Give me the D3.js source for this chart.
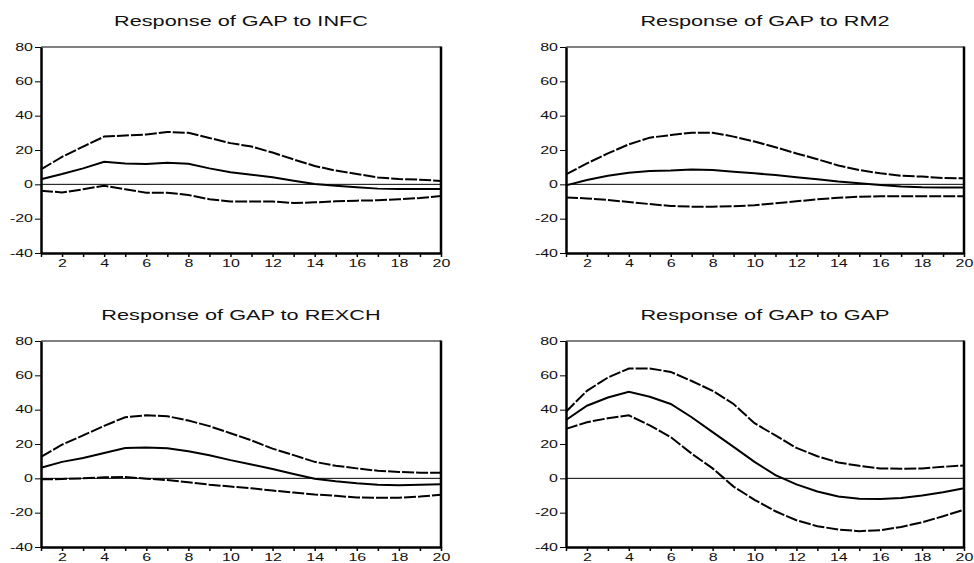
<!DOCTYPE html>
<html>
<head>
<meta charset="utf-8">
<script src="https://cdn.jsdelivr.net/npm/d3@7"></script>
<style>
  html, body { margin: 0; padding: 0; background: #fff; }
  svg { display: block; }
  text { font-family: "Liberation Sans", Arial, sans-serif; fill: #111; }
</style>
</head>
<body>
<svg id="chart" width="974" height="563"></svg>
<script>
const periods = d3.range(1, 21);
const yTicks = [-40, -20, 0, 20, 40, 60, 80];
const xTickLabels = [2, 4, 6, 8, 10, 12, 14, 16, 18, 20];

const titles = [
  "Response of GAP to INFC",
  "Response of GAP to RM2",
  "Response of GAP to REXCH",
  "Response of GAP to GAP"
];

// Response of GAP to INFC
const infcUpper = [8.7, 16, 22, 27.8, 28.5, 29, 30.5, 30, 27, 24, 22, 18.5, 14.5, 10.7, 8, 6, 4, 3.1, 2.7, 2];
const infcMid   = [3, 6, 9.3, 13.2, 12.2, 11.8, 12.6, 12, 9.3, 7, 5.6, 4.1, 2.1, 0.2, -0.8, -1.7, -2.5, -2.7, -2.7, -2.7];
const infcLower = [-3.7, -4.7, -2.9, -0.8, -2.9, -4.9, -4.9, -6.2, -8.7, -10, -10, -10, -10.9, -10.5, -9.9, -9.5, -9.3, -8.7, -8, -6.8];

// Response of GAP to RM2
const rm2Upper = [5.8, 12.2, 18, 23.3, 27.2, 28.7, 30.1, 30.1, 27.8, 24.9, 21.6, 18, 14.6, 11, 8.3, 6.4, 5, 4.5, 3.7, 3.5];
const rm2Mid   = [-0.6, 2.5, 5, 6.8, 7.8, 8, 8.7, 8.3, 7.4, 6.4, 5.4, 4.1, 2.9, 1.6, 0.6, -0.4, -1.2, -1.7, -1.9, -1.9];
const rm2Lower = [-7.6, -8.2, -9.1, -10.3, -11.5, -12.6, -13, -13, -12.8, -12.2, -11, -9.9, -8.7, -7.8, -7.2, -7, -7, -7, -7, -7];

// Response of GAP to REXCH
const rexUpper = [12.5, 19.6, 25, 30.6, 35.6, 36.7, 36.2, 33.7, 30.4, 26.3, 22.1, 17.3, 13.5, 9.6, 7.3, 5.8, 4.4, 3.7, 3.3, 3.3];
const rexMid   = [6.2, 9.6, 11.9, 14.8, 17.7, 17.9, 17.5, 15.8, 13.5, 10.6, 8.1, 5.4, 2.5, -0.2, -1.7, -2.9, -3.7, -4, -3.7, -3.5];
const rexLower = [-0.6, -0.4, 0, 0.6, 0.8, -0.2, -1, -2.3, -3.7, -4.8, -5.8, -7.1, -8.3, -9.4, -10.2, -11.2, -11.3, -11.3, -10.6, -9.6];

// Response of GAP to GAP
const gapUpper = [38.8, 51, 58.7, 64, 64, 62, 56.7, 51, 43.3, 32.1, 25, 17.7, 12.9, 9.2, 7.3, 5.8, 5.6, 5.8, 6.7, 7.5];
const gapMid   = [34, 42.3, 47.1, 50.4, 47.5, 43.3, 35.6, 26.9, 18.3, 9.6, 1.9, -3.5, -7.7, -10.6, -11.9, -12.1, -11.5, -10, -8.1, -5.8];
const gapLower = [28.8, 32.7, 35, 36.7, 30.8, 24, 14.4, 5.8, -4.8, -12.5, -19.2, -24.4, -27.9, -29.8, -30.8, -30.2, -28.3, -25.6, -22.1, -18.3];

const panelData = [
  { upper: infcUpper, mid: infcMid, lower: infcLower },
  { upper: rm2Upper,  mid: rm2Mid,  lower: rm2Lower },
  { upper: rexUpper,  mid: rexMid,  lower: rexLower },
  { upper: gapUpper,  mid: gapMid,  lower: gapLower }
];

// layout
const panels = [
  { x0: 41,  x1: 441, y0: 47,  y1: 253 },
  { x0: 566, x1: 964, y0: 47,  y1: 253 },
  { x0: 41,  x1: 441, y0: 341, y1: 547 },
  { x0: 566, x1: 964, y0: 341, y1: 547 }
];

const svg = d3.select("#chart");
const TXT_SCALE = 1.6;
const TITLE_SCALE = 1.55;
const fmt = v => String(v); // plain hyphen-minus like the reference

panels.forEach((p, i) => {
  const d = panelData[i];
  const x = d3.scaleLinear().domain([1, 20]).range([p.x0, p.x1]);
  const y = d3.scaleLinear().domain([-40, 80]).range([p.y1, p.y0]);
  const g = svg.append("g");

  // title
  g.append("text")
    .attr("transform", `translate(${(p.x0 + p.x1) / 2},${p.y0 - 21}) scale(${TITLE_SCALE},1)`)
    .attr("text-anchor", "middle")
    .attr("font-size", 14)
    .text(titles[i]);

  // zero line
  g.append("line")
    .attr("x1", p.x0).attr("x2", p.x1)
    .attr("y1", y(0)).attr("y2", y(0))
    .attr("stroke", "#000").attr("stroke-width", 1);

  // top border (thin)
  g.append("line")
    .attr("x1", p.x0).attr("x2", p.x1)
    .attr("y1", p.y0).attr("y2", p.y0)
    .attr("stroke", "#000").attr("stroke-width", 1);
  // right border (thick)
  g.append("line")
    .attr("x1", p.x1).attr("x2", p.x1)
    .attr("y1", p.y0 - 0.5).attr("y2", p.y1 + 1)
    .attr("stroke", "#000").attr("stroke-width", 2.5);

  // y axis
  const ya = g.append("g")
    .attr("transform", `translate(${p.x0},0)`)
    .call(d3.axisLeft(y).tickValues(yTicks).tickSize(6).tickPadding(2).tickSizeOuter(0).tickFormat(fmt));
  ya.select(".domain").attr("stroke-width", 2.5);
  ya.selectAll(".tick line").attr("stroke-width", 1);
  ya.selectAll(".tick text")
    .attr("font-size", 10)
    .attr("font-family", "Liberation Sans, Arial, sans-serif")
    .each(function () {
      const t = d3.select(this);
      const tx = +t.attr("x");
      t.attr("x", 0).attr("transform", `translate(${tx},0) scale(${TXT_SCALE},1)`);
    });

  // x axis: ticks at every period, labels at even periods
  const xa = g.append("g")
    .attr("transform", `translate(0,${p.y1})`)
    .call(d3.axisBottom(x).tickValues(periods).tickSize(4).tickPadding(3).tickSizeOuter(0)
      .tickFormat(v => xTickLabels.includes(v) ? String(v) : ""));
  xa.select(".domain").attr("stroke-width", 2.5);
  xa.selectAll(".tick line").attr("stroke-width", 1.5);
  xa.selectAll(".tick text")
    .attr("font-size", 10)
    .attr("font-family", "Liberation Sans, Arial, sans-serif")
    .attr("transform", `scale(${TXT_SCALE},1)`)
    .attr("x", 0);

  const line = d3.line().x((v, k) => x(periods[k])).y(v => y(v));

  g.append("path").datum(d.upper)
    .attr("d", line).attr("fill", "none").attr("stroke", "#000")
    .attr("stroke-width", 2).attr("stroke-dasharray", "12,2");
  g.append("path").datum(d.lower)
    .attr("d", line).attr("fill", "none").attr("stroke", "#000")
    .attr("stroke-width", 2).attr("stroke-dasharray", "12,2");
  g.append("path").datum(d.mid)
    .attr("d", line).attr("fill", "none").attr("stroke", "#000")
    .attr("stroke-width", 2);
});
</script>
</body>
</html>
